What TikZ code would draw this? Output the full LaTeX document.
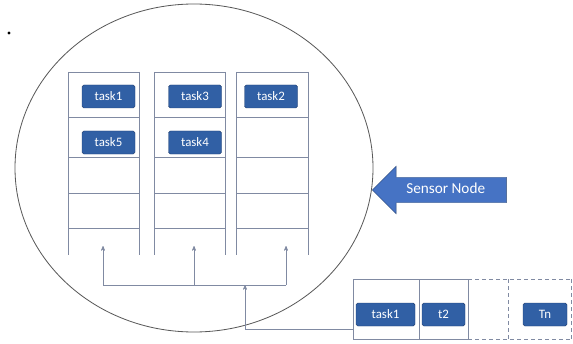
\documentclass[tikz,border=0pt]{standalone}
\usepackage{fontspec}
\setmainfont{Carlito}
\usetikzlibrary{arrows,shapes.arrows}
\definecolor{taskblue}{RGB}{49,96,165}
\definecolor{taskedge}{RGB}{32,62,112}
\definecolor{gridline}{RGB}{128,138,162}
\definecolor{arrowblue}{RGB}{70,115,196}

\tikzset{
    task/.style = {rectangle,
                   rounded corners = 1.5pt,
                   draw = taskedge,
                   fill = taskblue,
                   text = white,
                   inner sep = 0pt,
                   font = \fontsize{11}{13}\selectfont,
                   minimum width = 1.59cm,
                   minimum height = 0.69cm},
    slot/.style = {draw = gridline, line width = 0.6pt},
    feed/.style = {draw = gridline, line width = 0.5pt}
}

\begin{document}
\begin{tikzpicture}[x=0.03cm,y=-0.03cm,>=stealth']
\useasboundingbox (0,0) rectangle (573,343);

    % sensor node boundary
    \draw[draw = black!65, line width = 0.7pt] (194,168) ellipse (179 and 164);
    \fill (9,33) circle (1.6);

    % the three task columns
    \foreach \l/\r in {68/139, 154/225, 236/308} {
        \draw[slot] (\l,72) -- (\l,255);
        \draw[slot] (\r,72) -- (\r,255);
        \foreach \y in {72,117,157,193,228}
            \draw[slot] (\l,\y) -- (\r,\y);
    }

    \node[task] (c1t1) at (108.5,96.5) {task1};
    \node[task] (c1t5) at (108.5,142.5) {task5};
    \node[task] (c2t3) at (195,96.5) {task3};
    \node[task] (c2t4) at (195,142.5) {task4};
    \node[task] (c3t2) at (271,96.5) {task2};

    % sensor node label
    \node[single arrow,
          shape border rotate = 180,
          draw = taskedge,
          fill = arrowblue,
          text = white,
          font = \fontsize{13}{15}\selectfont,
          single arrow head extend = 0.33cm,
          single arrow head indent = 0cm,
          text height = 0.3cm,
          text depth = 0.08cm,
          inner ysep = 0.185cm,
          inner xsep = 0.1cm,
          minimum height = 4.02cm,
          anchor = tip
          ] (sensor) at (372,190) {Sensor Node};

    % incoming queue
    \draw[slot] (353,279) -- (468,279);
    \draw[slot] (353,339) -- (468,339);
    \draw[slot, dashed] (468,279) -- (571,279);
    \draw[slot, dashed] (468,339) -- (571,339);
    \draw[slot] (353,279) -- (353,339);
    \draw[slot] (419,279) -- (419,339);
    \draw[slot] (468,279) -- (468,339);
    \draw[slot, dashed] (508,279) -- (508,339);
    \draw[slot, dashed] (571,279) -- (571,339);

    \node[task, minimum width = 1.77cm] (q1) at (385.5,314.5) {task1};
    \node[task, minimum width = 1.29cm] (q2) at (443.5,314.5) {t2};
    \node[task, minimum width = 1.32cm] (qn) at (545,314.5) {Tn};

    % dispatch lines
    \coordinate (qin) at (353,329);
    \coordinate (qf) at (245,329);
    \coordinate (bj) at (245,285);
    \coordinate (b1) at (103,285);
    \coordinate (b2) at (194,285);
    \coordinate (b3) at (286,285);
    \coordinate (u1) at (103,246);
    \coordinate (u2) at (194,246);
    \coordinate (u3) at (286,246);

    \draw[feed, ->] (qin) -- (qf) -- (bj);
    \draw[feed] (b1) -- (b3);
    \draw[feed, ->] (b1) -- (u1);
    \draw[feed, ->] (b2) -- (u2);
    \draw[feed, ->] (b3) -- (u3);

\end{tikzpicture}
\end{document}
